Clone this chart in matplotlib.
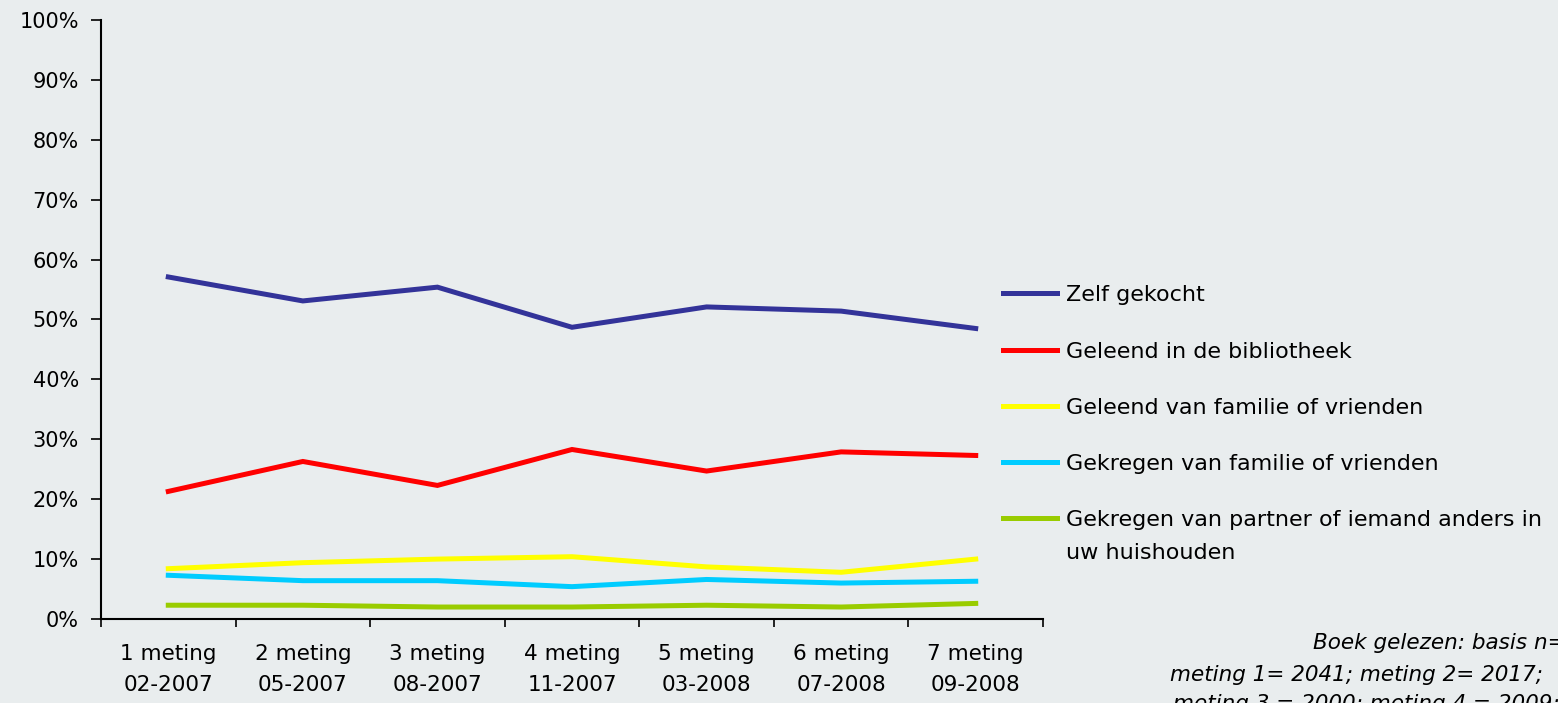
import matplotlib.pyplot as plt
from matplotlib.lines import Line2D

W, H = 1558, 703
bg = '#E9EDEE'

categories = ['1 meting\n02-2007', '2 meting\n05-2007', '3 meting\n08-2007', '4 meting\n11-2007',
              '5 meting\n03-2008', '6 meting\n07-2008', '7 meting\n09-2008']

zelf_gekocht = [57.1, 53.1, 55.4, 48.7, 52.1, 51.4, 48.5]
bibliotheek = [21.3, 26.3, 22.3, 28.3, 24.7, 27.9, 27.3]
geleend_familie = [8.4, 9.4, 10.0, 10.4, 8.7, 7.8, 10.0]
gekregen_familie = [7.3, 6.4, 6.4, 5.4, 6.6, 6.0, 6.3]
gekregen_partner = [2.3, 2.3, 2.0, 2.0, 2.3, 2.0, 2.6]

series = [
    ('Zelf gekocht', zelf_gekocht, '#333399'),
    ('Geleend in de bibliotheek', bibliotheek, '#FF0000'),
    ('Geleend van familie of vrienden', geleend_familie, '#FFFF00'),
    ('Gekregen van familie of vrienden', gekregen_familie, '#00CCFF'),
    ('Gekregen van partner of iemand anders in\nuw huishouden', gekregen_partner, '#99CC00'),
]

footnote = ['Boek gelezen: basis n=',
            'meting 1= 2041; meting 2= 2017;',
            'meting 3 = 2000; meting 4 = 2009;']

plt.rcParams['font.family'] = 'DejaVu Sans'
fig = plt.figure(figsize=(W / 100, H / 100), dpi=100, facecolor=bg)
ax = fig.add_axes([101 / W, (H - 619) / H, (1043 - 101) / W, (619 - 20) / H])
ax.set_facecolor(bg)

x = range(len(categories))
for name, vals, col in series:
    ax.plot(x, vals, color=col, lw=3.6, solid_joinstyle='miter')

ax.set_xlim(-0.5, len(categories) - 0.5)
ax.set_ylim(0, 100)
ax.set_yticks(range(0, 101, 10))
ax.set_yticklabels([f'{v}%' for v in range(0, 101, 10)], fontsize=15)
ax.set_xticks([i - 0.5 for i in range(len(categories) + 1)])
ax.set_xticklabels([])
ax.set_xticks(list(x), minor=True)
ax.set_xticklabels(categories, minor=True, fontsize=15.5, linespacing=1.7)
ax.tick_params(axis='x', which='minor', length=0, pad=18)
ax.tick_params(axis='x', which='major', length=6, width=1.2, direction='out')
ax.tick_params(axis='y', length=7, width=1.2, pad=9)
for s in ['top', 'right']:
    ax.spines[s].set_visible(False)
for s in ['left', 'bottom']:
    ax.spines[s].set_linewidth(1.5)

# legend drawn by hand so the handle sits on the first line of the wrapped label
rows = [293, 350, 406, 462, 518]
for (name, vals, col), yp in zip(series, rows):
    yf = 1 - yp / H
    fig.add_artist(Line2D([1003 / W, 1057 / W], [yf, yf], color=col, lw=3.6,
                          transform=fig.transFigure))
    for i, part in enumerate(name.split('\n')):
        fig.text(1066 / W, 1 - (yp + 8 + 33 * i) / H, part, fontsize=16, va='baseline', ha='left')

foot_x = [1313, 1170, 1173]
foot_y = [643, 675, 704]
for txt, fx, fy in zip(footnote, foot_x, foot_y):
    fig.text(fx / W, 1 - fy / H, txt, fontsize=15.5, style='italic', va='center')

fig.savefig('out.png', dpi=100, facecolor=bg)
